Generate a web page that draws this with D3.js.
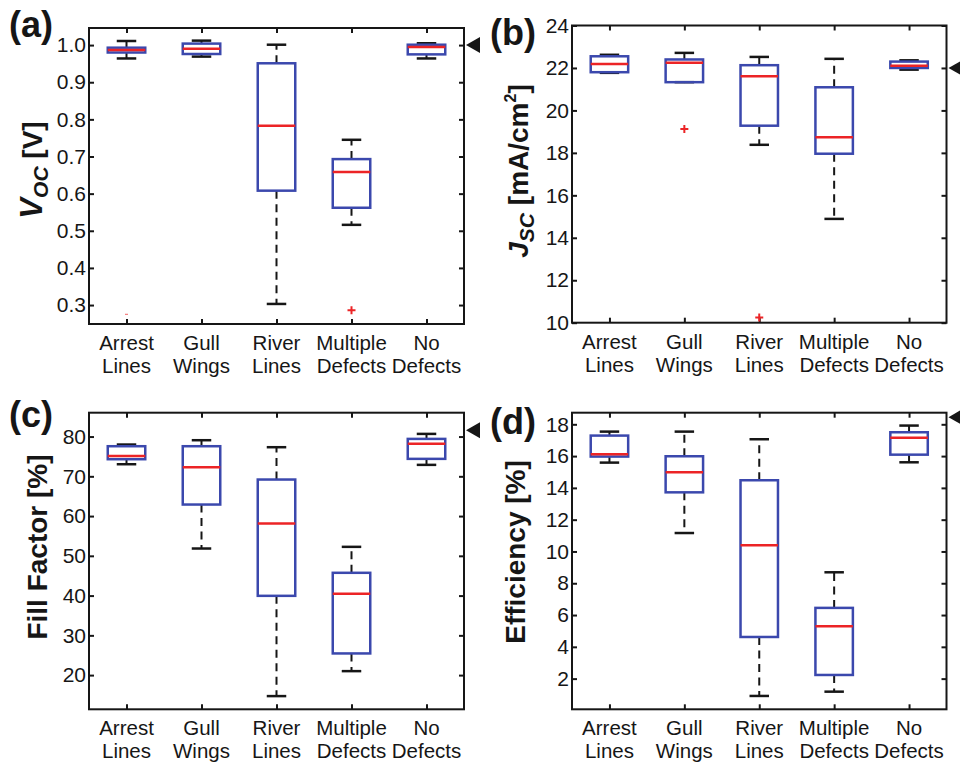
<!DOCTYPE html>
<html><head><meta charset="utf-8">
<script src="https://cdn.jsdelivr.net/npm/d3@7"></script>
<style>
html,body{margin:0;padding:0;background:#fff;}
svg{display:block;font-family:"Liberation Sans",Arial,Helvetica,sans-serif;}
</style></head><body>
<svg id="fig" width="960" height="763"></svg>
<script>
// Defect categories (two-line tick labels)
const categories = [["Arrest", "Lines"], ["Gull", "Wings"], ["River", "Lines"], ["Multiple", "Defects"], ["No", "Defects"]];

// Open-circuit voltage [V]: whisker ends, quartiles, medians
const vocLow  = [0.964, 0.969, 0.303, 0.516, 0.964];
const vocQ1   = [0.980, 0.976, 0.608, 0.562, 0.975];
const vocMed  = [0.987, 0.990, 0.783, 0.658, 0.995];
const vocQ3   = [0.993, 1.004, 0.951, 0.693, 1.001];
const vocHigh = [1.011, 1.012, 1.001, 0.745, 1.005];
const vocOutliers = [[3, 0.286]];
const vocFaint = [[0, 0.275]];
const vocTicks = [0.3, 0.4, 0.5, 0.6, 0.7, 0.8, 0.9, 1.0];

// Short-circuit current density [mA/cm2]
const jscLow  = [21.77, 21.33, 18.38, 14.89, 21.92];
const jscQ1   = [21.80, 21.33, 19.28, 17.96, 22.00];
const jscMed  = [22.19, 22.25, 21.61, 18.73, 22.10];
const jscQ3   = [22.55, 22.40, 22.13, 21.09, 22.30];
const jscHigh = [22.62, 22.71, 22.52, 22.43, 22.36];
const jscOutliers = [[1, 19.12], [2, 10.25]];
const jscTicks = [10, 12, 14, 16, 18, 20, 22, 24];

// Fill factor [%]
const ffLow  = [73.04, 51.84, 14.72, 21.00, 72.88];
const ffQ1   = [74.30, 62.90, 39.94, 25.45, 74.39];
const ffMed  = [75.14, 72.29, 58.13, 40.45, 78.16];
const ffQ3   = [77.57, 77.57, 69.19, 45.73, 79.41];
const ffHigh = [77.99, 79.08, 77.32, 52.26, 80.67];
const ffOutliers = [];
const ffTicks = [20, 30, 40, 50, 60, 70, 80];

// Efficiency [%]
const effLow  = [15.59, 11.16, 0.91, 1.18, 15.61];
const effQ1   = [15.97, 13.72, 4.62, 2.23, 16.09];
const effMed  = [16.11, 14.98, 10.39, 5.29, 17.16];
const effQ3   = [17.29, 15.99, 14.48, 6.45, 17.50];
const effHigh = [17.54, 17.54, 17.06, 8.69, 17.92];
const effOutliers = [];
const effTicks = [2, 4, 6, 8, 10, 12, 14, 16, 18];

// Reference values marked with an arrow on the right edge of each panel
const refMarks = [1.0, 22.0, 81.6, 18.45];

const BLUE = "#3b48ad", RED = "#ec2426", INK = "#161616";
const svg = d3.select("#fig");

const panels = [
  { tag: "(a)", tagX: 9, tagY: 37, box: {l: 89, r: 464, t: 28, b: 324}, domain: [0.249, 1.046],
    ticks: vocTicks, fmt: d3.format(".1f"),
    low: vocLow, q1: vocQ1, med: vocMed, q3: vocQ3, high: vocHigh, out: vocOutliers, faint: vocFaint,
    ref: refMarks[0], labelX: 42, labelY: 170,
    label: [{t: "V", it: true, big: true}, {t: "OC", it: true, sub: true}, {t: " [V]"}] },
  { tag: "(b)", tagX: 490, tagY: 45, box: {l: 572, r: 946.5, t: 25.5, b: 322.7}, domain: [10, 24],
    ticks: jscTicks, fmt: d3.format("d"),
    low: jscLow, q1: jscQ1, med: jscMed, q3: jscQ3, high: jscHigh, out: jscOutliers, faint: [],
    ref: refMarks[1], labelX: 528, labelY: 171,
    label: [{t: "J", it: true}, {t: "SC", it: true, sub: true}, {t: " [mA/cm"}, {t: "2", sup: true}, {t: "]"}] },
  { tag: "(c)", tagX: 9, tagY: 427, box: {l: 89, r: 464, t: 412.7, b: 709.3}, domain: [11.4, 86],
    ticks: ffTicks, fmt: d3.format("d"),
    low: ffLow, q1: ffQ1, med: ffMed, q3: ffQ3, high: ffHigh, out: ffOutliers, faint: [],
    ref: refMarks[2], labelX: 47, labelY: 547,
    label: [{t: "Fill Factor [%]"}] },
  { tag: "(d)", tagX: 490, tagY: 434, box: {l: 572, r: 946.5, t: 412.7, b: 709.3}, domain: [0.07, 18.73],
    ticks: effTicks, fmt: d3.format("d"),
    low: effLow, q1: effQ1, med: effMed, q3: effQ3, high: effHigh, out: effOutliers, faint: [],
    ref: refMarks[3], labelX: 525, labelY: 552,
    label: [{t: "Efficiency [%]"}] }
];

panels.forEach(p => {
  const {l, r, t, b} = p.box;
  const x = d3.scaleLinear().domain([0.5, categories.length + 0.5]).range([l, r]);
  const y = d3.scaleLinear().domain(p.domain).range([b, t]);
  const pos = categories.map((c, i) => i + 1);
  const g = svg.append("g");

  // Axis ticks on all four sides, pointing inward
  const tickStyle = sel => {
    sel.select(".domain").remove();
    sel.selectAll(".tick line").attr("stroke", INK).attr("stroke-width", 2);
  };
  g.append("g").attr("transform", `translate(${l},0)`)
    .call(d3.axisLeft(y).tickValues(p.ticks).tickFormat(p.fmt).tickSize(-5).tickPadding(3))
    .call(tickStyle)
    .call(s => s.selectAll("text").attr("font-size", 21).attr("fill", INK)
      .attr("font-family", '"Liberation Sans",Arial,sans-serif'));
  g.append("g").attr("transform", `translate(${r},0)`)
    .call(d3.axisRight(y).tickValues(p.ticks).tickFormat("").tickSize(-5)).call(tickStyle);
  g.append("g").attr("transform", `translate(0,${t})`)
    .call(d3.axisTop(x).tickValues(pos).tickFormat("").tickSize(-5)).call(tickStyle);
  g.append("g").attr("transform", `translate(0,${b})`)
    .call(d3.axisBottom(x).tickValues(pos).tickFormat("").tickSize(-5)).call(tickStyle);

  // Axes frame
  g.append("rect").attr("x", l).attr("y", t).attr("width", r - l).attr("height", b - t)
    .attr("fill", "none").attr("stroke", INK).attr("stroke-width", 2);

  // Category labels
  categories.forEach((c, i) => {
    c.forEach((line, k) => {
      g.append("text").attr("x", x(i + 1)).attr("y", b + 26 + k * 23)
        .attr("text-anchor", "middle").attr("font-size", 20.5).attr("fill", INK).text(line);
    });
  });

  const halfBox = (x(1.25) - x(1));
  const halfCap = (x(1.13) - x(1));

  categories.forEach((c, i) => {
    const cx = x(i + 1);
    // whiskers (dashed)
    g.append("line").attr("x1", cx).attr("x2", cx).attr("y1", y(p.q3[i])).attr("y2", y(p.high[i]))
      .attr("stroke", INK).attr("stroke-width", 2).attr("stroke-dasharray", "8,5.5");
    g.append("line").attr("x1", cx).attr("x2", cx).attr("y1", y(p.q1[i])).attr("y2", y(p.low[i]))
      .attr("stroke", INK).attr("stroke-width", 2).attr("stroke-dasharray", "8,5.5");
    // whisker caps
    [p.high[i], p.low[i]].forEach(v => {
      g.append("line").attr("x1", cx - halfCap).attr("x2", cx + halfCap).attr("y1", y(v)).attr("y2", y(v))
        .attr("stroke", INK).attr("stroke-width", 2.5);
    });
    // box
    g.append("rect").attr("x", cx - halfBox).attr("y", y(p.q3[i]))
      .attr("width", 2 * halfBox).attr("height", Math.max(0.5, y(p.q1[i]) - y(p.q3[i])))
      .attr("fill", "none").attr("stroke", BLUE).attr("stroke-width", 2.5);
    // median
    g.append("line").attr("x1", cx - halfBox).attr("x2", cx + halfBox).attr("y1", y(p.med[i])).attr("y2", y(p.med[i]))
      .attr("stroke", RED).attr("stroke-width", 2.5);
  });

  // outliers as red plus markers
  p.out.forEach(([i, v]) => {
    const cx = x(i + 1), cy = y(v);
    g.append("path").attr("d", `M${cx - 4},${cy}H${cx + 4}M${cx},${cy - 4}V${cy + 4}`)
      .attr("stroke", RED).attr("stroke-width", 2).attr("fill", "none");
  });
  p.faint.forEach(([i, v]) => {
    const cx = x(i + 1), cy = y(v);
    g.append("path").attr("d", `M${cx - 1.5},${cy}H${cx + 1.5}`)
      .attr("stroke", RED).attr("stroke-opacity", 0.6).attr("stroke-width", 1.2);
  });

  // reference arrow
  const ay = y(p.ref), ax = r + 2;
  g.append("path").attr("d", `M${ax},${ay}L${ax + 14},${ay - 8}L${ax + 14},${ay + 8}Z`).attr("fill", INK);

  // panel tag
  g.append("text").attr("x", p.tagX).attr("y", p.tagY).attr("font-size", 36).attr("font-weight", "bold")
    .attr("fill", INK).text(p.tag);

  // y-axis title (with sub/superscript spans)
  const lab = g.append("text").attr("transform", `translate(${p.labelX},${p.labelY}) rotate(-90)`)
    .attr("text-anchor", "middle").attr("font-size", 28).attr("font-weight", "bold").attr("fill", INK);
  let shift = 0;
  p.label.forEach(part => {
    const ts = lab.append("tspan").text(part.t);
    if (part.it) ts.attr("font-style", "italic");
    if (part.big) ts.attr("font-size", 31);
    const want = part.sub ? 6 : part.sup ? -12 : 0;
    if (part.sub) ts.attr("font-size", 21);
    if (part.sup) ts.attr("font-size", 16);
    ts.attr("dy", want - shift);
    shift = want;
  });
});
</script></body></html>
